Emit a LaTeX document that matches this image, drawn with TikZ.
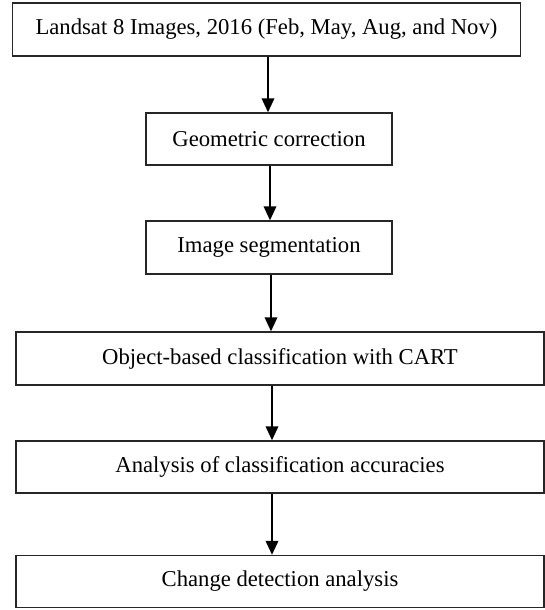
\documentclass[tikz,border=0pt]{standalone}
\usepackage{fontspec}
\setmainfont{Liberation Serif}
\usetikzlibrary{arrows.meta}
\begin{document}
\begin{tikzpicture}[x=0.75pt,y=-0.75pt,
  box/.style={draw=black!85,line width=1.1pt,fill=white,inner sep=0pt,font=\fontsize{17}{20}\selectfont},
  arr/.style={-{Triangle[length=10.5pt,width=9.5pt]},line width=1.2pt,black}]
\useasboundingbox (0,0) rectangle (545,610);
\node[box,minimum width={508*0.75pt},minimum height={53*0.75pt}] (b1) at (266.5,29.5) {Landsat 8 Images, 2016 (Feb, May, Aug, and Nov)};
\node[box,minimum width={246*0.75pt},minimum height={52*0.75pt}] (b2) at (269,139) {Geometric correction};
\node[box,minimum width={246*0.75pt},minimum height={53*0.75pt}] (b3) at (269,247.5) {Image segmentation};
\node[box,minimum width={528*0.75pt},minimum height={53*0.75pt}] (b4) at (280,358.5) {Object-based classification with CART};
\node[box,minimum width={528*0.75pt},minimum height={52*0.75pt}] (b5) at (280,467) {Analysis of classification accuracies};
\node[box,minimum width={528*0.75pt},minimum height={52*0.75pt}] (b6) at (280,581.5) {Change detection analysis};
\coordinate (c1) at (268,0);
\coordinate (c2) at (270,0);
\coordinate (c3) at (271,0);
\coordinate (c4) at (272,0);
\draw[arr] (b1.south -| c1) -- (b2.north -| c1);
\draw[arr] (b2.south -| c2) -- (b3.north -| c2);
\draw[arr] (b3.south -| c3) -- (b4.north -| c3);
\draw[arr] (b4.south -| c4) -- (b5.north -| c4);
\draw[arr] (b5.south -| c4) -- (b6.north -| c4);
\end{tikzpicture}
\end{document}
